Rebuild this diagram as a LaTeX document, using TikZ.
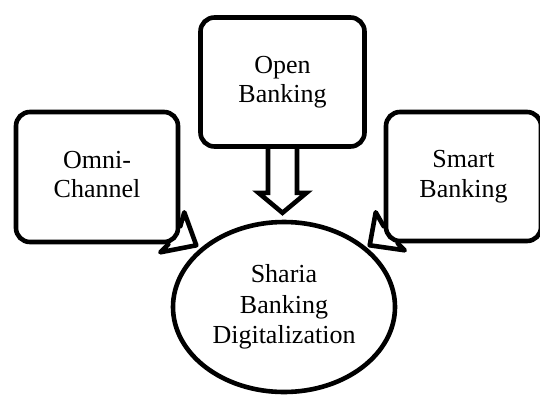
\documentclass[tikz,border=0pt]{standalone}
\usepackage{fontspec}
\setmainfont{Liberation Serif}
\usetikzlibrary{shapes.geometric,calc}
\newcommand\lnTop{\rule{0pt}{23.2pt}}
\newcommand\lnBot{\rule[-5.6pt]{0pt}{5.6pt}}
\begin{document}
\begin{tikzpicture}[x=1pt,y=-1pt,
  bw/.style={line width=4.6pt},
  struts/.style={execute at begin node=\lnTop, execute at end node=\lnBot},
  boxnode/.style={bw,draw=black,rounded corners=14pt,inner sep=0pt,align=center,struts,
    font=\fontsize{26}{29.5}\selectfont},
  ellnode/.style={bw,draw=black,ellipse,inner sep=0pt,align=center,struts,
    font=\fontsize{26}{30.5}\selectfont},
  pointer/.style={bw,line join=round,line cap=round}]
\useasboundingbox (0,0) rectangle (540,397);
\node[boxnode,minimum width=164pt,minimum height=129pt] (open) at (282.5,82) {Open\\Banking};
\node[boxnode,minimum width=162pt,minimum height=130pt] (omni) at (97,177) {Omni-\\Channel};
\node[boxnode,minimum width=155pt,minimum height=129pt] (smart) at (463.5,176.5) {Smart\\Banking};
\node[ellnode,minimum width=222pt,minimum height=170pt] (sbd) at (284,307) {Sharia\\Banking\\Digitalization};
% block arrow
\coordinate (os) at (open.south);
\draw[bw,line join=miter] ($(os)+(-14.5,0)$) -- ($(os)+(-14.5,44)$) -- ($(os)+(-24,44)$)
  -- ($(os)+(0,64)$) -- ($(os)+(24,44)$) -- ($(os)+(14.5,44)$) -- ($(os)+(14.5,0)$);
% callout pointers
\coordinate (oc) at (omni.south east);
\draw[pointer] ($(oc)+(0,-18)$) -- ($(oc)+(4,-32)$) -- ($(oc)+(16,1)$) -- ($(oc)+(-20,8)$) -- ($(oc)+(-12,0)$);
\coordinate (sc) at (smart.south west);
\draw[pointer] ($(sc)+(0,-17)$) -- ($(sc)+(-8,-31)$) -- ($(sc)+(-14,2)$) -- ($(sc)+(21,7)$) -- ($(sc)+(14,0)$);
\end{tikzpicture}
\end{document}
